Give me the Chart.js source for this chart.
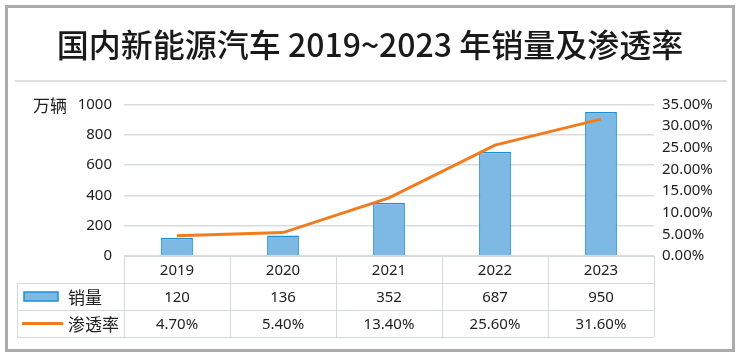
<!DOCTYPE html>
<html>
<head>
<meta charset="utf-8">
<script src="https://cdn.jsdelivr.net/npm/chart.js@4.4.1/dist/chart.umd.min.js"></script>
<style>
  html, body { margin: 0; padding: 0; background: #fff; }
  #chart { display: block; }
</style>
</head>
<body>
<canvas id="chart" width="740" height="359"></canvas>
<script>
// ── Data ─────────────────────────────────────────────────────────
const years = ["2019", "2020", "2021", "2022", "2023"];
const sales = [120, 136, 352, 687, 950];          // 万辆
const penetration = [4.70, 5.40, 13.40, 25.60, 31.60]; // %
const salesTicks = { min: 0, max: 1000, step: 200 };
const rateTicks = { min: 0, max: 35, step: 5 };

const FONT = "'Noto Sans', 'Noto Sans CJK SC', sans-serif";
const CJK = "'Noto Sans CJK SC', 'Noto Sans', sans-serif";
const BAR_FILL = "#7db9e3";
const BAR_EDGE = "#1b8fd6";
const LINE_COL = "#f07c1e";
const GRID_COL = "#d8dce1";
const TEXT_COL = "#222";

// ── Frame, title rule and data table ─────────────────────────────
const tablePlugin = {
  id: "dataTable",
  beforeDraw(chart) {
    const ctx = chart.ctx;
    ctx.save();
    ctx.strokeStyle = "#ababab";
    ctx.lineWidth = 3;
    ctx.strokeRect(6.5, 6.5, 727, 344);
    ctx.strokeStyle = "#e0e0e0";
    ctx.lineWidth = 2;
    ctx.beginPath();
    ctx.moveTo(15, 81);
    ctx.lineTo(727, 81);
    ctx.stroke();
    ctx.restore();
  },
  afterDraw(chart) {
    const ctx = chart.ctx;
    const { left, right, bottom } = chart.chartArea;
    const x = chart.scales.x;
    const n = years.length;
    const cw = (right - left) / n;
    const rowH = 27;
    const legendLeft = 17;
    const top = Math.round(bottom);

    ctx.save();
    ctx.strokeStyle = "#d3d8de";
    ctx.lineWidth = 1;
    ctx.beginPath();
    // horizontal rules
    ctx.moveTo(left, top + 0.5); ctx.lineTo(right, top + 0.5);
    for (let r = 1; r <= 3; r++) {
      ctx.moveTo(legendLeft, top + r * rowH + 0.5);
      ctx.lineTo(right, top + r * rowH + 0.5);
    }
    // vertical rules
    for (let i = 0; i <= n; i++) {
      const vx = Math.round(left + i * cw) + 0.5;
      ctx.moveTo(vx, top); ctx.lineTo(vx, top + 3 * rowH);
    }
    ctx.moveTo(legendLeft + 0.5, top + rowH); ctx.lineTo(legendLeft + 0.5, top + 3 * rowH);
    ctx.stroke();

    // cell text
    ctx.fillStyle = TEXT_COL;
    ctx.font = "15px " + FONT;
    ctx.textAlign = "center";
    ctx.textBaseline = "middle";
    years.forEach((yr, i) => {
      const cx = x.getPixelForValue(i);
      ctx.fillText(yr, cx, top + rowH * 0.5 + 1);
      ctx.fillText(String(sales[i]), cx, top + rowH * 1.5 + 1);
      ctx.fillText(penetration[i].toFixed(2) + "%", cx, top + rowH * 2.5 + 1);
    });

    // legend keys
    const y1 = top + rowH * 1.5;
    const y2 = top + rowH * 2.5;
    ctx.fillStyle = BAR_FILL;
    ctx.strokeStyle = BAR_EDGE;
    ctx.lineWidth = 1.5;
    ctx.fillRect(24, y1 - 4.5, 34, 9);
    ctx.strokeRect(24, y1 - 4.5, 34, 9);
    ctx.strokeStyle = LINE_COL;
    ctx.lineWidth = 3;
    ctx.beginPath();
    ctx.moveTo(22, y2); ctx.lineTo(63, y2);
    ctx.stroke();
    ctx.fillStyle = TEXT_COL;
    ctx.font = "17px " + CJK;
    ctx.textAlign = "left";
    ctx.fillText("销量", 68, y1 + 1);
    ctx.fillText("渗透率", 68, y2 + 1);

    // unit label
    ctx.textAlign = "center";
    ctx.fillText("万辆", 50, chart.scales.y.getPixelForValue(salesTicks.max) + 1);
    ctx.restore();
  }
};

// ── Chart ────────────────────────────────────────────────────────
new Chart(document.getElementById("chart"), {
  data: {
    labels: years,
    datasets: [
      {
        type: "line",
        label: "渗透率",
        data: penetration,
        yAxisID: "y1",
        borderColor: LINE_COL,
        borderWidth: 3,
        pointRadius: 0,
        tension: 0,
        order: 0
      },
      {
        type: "bar",
        label: "销量",
        data: sales,
        yAxisID: "y",
        backgroundColor: BAR_FILL,
        borderColor: BAR_EDGE,
        borderWidth: 1.5,
        barPercentage: 0.3,
        categoryPercentage: 1,
        order: 1
      }
    ]
  },
  options: {
    responsive: false,
    animation: false,
    layout: { padding: { top: 0, bottom: 103, left: 0, right: 0 } },
    plugins: {
      legend: { display: false },
      tooltip: { enabled: false },
      title: {
        display: true,
        text: "国内新能源汽车 2019~2023 年销量及渗透率",
        color: "#1a1a1a",
        font: { family: CJK, size: 32, weight: "500", lineHeight: 1.2 },
        padding: { top: 26, bottom: 40 }
      }
    },
    scales: {
      x: {
        display: false,
        offset: true
      },
      y: {
        position: "left",
        min: salesTicks.min,
        max: salesTicks.max,
        afterFit: (s) => { s.width = 124; },
        ticks: {
          stepSize: salesTicks.step,
          padding: 12,
          color: TEXT_COL,
          font: { family: FONT, size: 15 },
          callback: (v) => String(v)
        },
        grid: { color: GRID_COL, lineWidth: 1.5, drawTicks: false },
        border: { display: false }
      },
      y1: {
        position: "right",
        min: rateTicks.min,
        max: rateTicks.max,
        afterFit: (s) => { s.width = 86; },
        ticks: {
          stepSize: rateTicks.step,
          padding: 8,
          color: TEXT_COL,
          font: { family: FONT, size: 15 },
          callback: (v) => v.toFixed(2) + "%"
        },
        grid: { display: false, drawTicks: false },
        border: { display: false }
      }
    }
  },
  plugins: [tablePlugin]
});
</script>
</body>
</html>
